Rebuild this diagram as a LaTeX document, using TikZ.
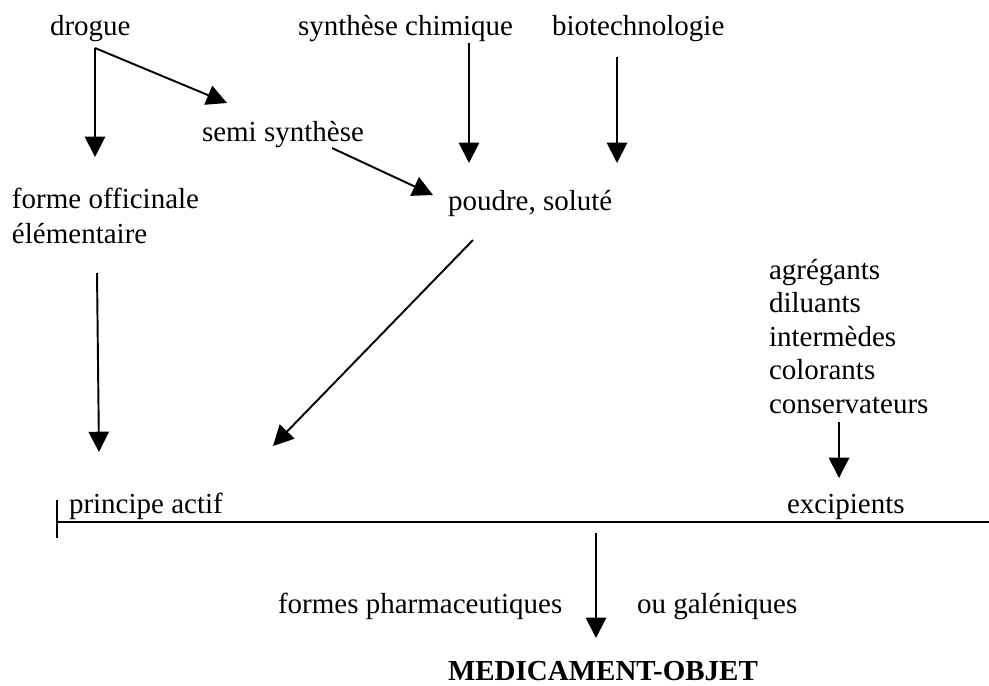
\documentclass[tikz,border=0pt]{standalone}
\usepackage{fontspec}
\setmainfont{Liberation Serif}
\usetikzlibrary{arrows.meta}
\begin{document}
\begin{tikzpicture}[x=0.4138pt,y=-0.4138pt,
  lbl/.style={anchor=base west,inner sep=0pt,outer sep=0pt,font=\fontsize{12pt}{14pt}\selectfont,align=left},
  arr/.style={line width=0.8pt,-{Triangle[length=8.4pt,width=8.4pt]}},
  rule/.style={line width=1.2pt}]
\useasboundingbox (0,0) rectangle (989,685);
% text nodes (multi-line nodes are placed at the baseline of their last line)
\node[lbl] (drogue) at (50,35) {drogue};
\node[lbl] (chim) at (298,35) {synthèse chimique};
\node[lbl] (bio) at (552,35) {biotechnologie};
\node[lbl] (semi) at (202,141) {semi synthèse};
\node[lbl,font=\fontsize{12pt}{14.4pt}\selectfont] (forme) at (12,243) {forme officinale\\élémentaire};
\node[lbl] (poudre) at (448,210) {poudre, soluté};
\node[lbl,font=\fontsize{12pt}{13.8pt}\selectfont] (adj) at (769,413) {agrégants\\diluants\\intermèdes\\colorants\\conservateurs};
\node[lbl] (pa) at (69,513) {principe actif};
\node[lbl] (exc) at (787,513) {excipients};
\node[lbl] (fp) at (278,613) {formes pharmaceutiques};
\node[lbl] (gal) at (637,613) {ou galéniques};
\node[lbl,font=\fontsize{12pt}{14pt}\selectfont\bfseries] (med) at (448,680) {MEDICAMENT-OBJET};
% connector end points
\coordinate (d0) at (95,48);
\coordinate (d1) at (95,157);
\coordinate (d2) at (227,103);
\coordinate (c0) at (469,43);
\coordinate (c1) at (469,163);
\coordinate (b0) at (617,57);
\coordinate (b1) at (617,163);
\coordinate (s0) at (332,148);
\coordinate (s1) at (433,195);
\coordinate (f0) at (97,273);
\coordinate (f1) at (99,452);
\coordinate (p0) at (473,240);
\coordinate (p1) at (273,446);
\coordinate (e0) at (839,422);
\coordinate (e1) at (839,478);
\coordinate (l0) at (57,522);
\coordinate (l1) at (989,522);
\coordinate (t0) at (57,500);
\coordinate (t1) at (57,538);
\coordinate (m0) at (596,533);
\coordinate (m1) at (596,638);
% connectors
\draw[arr] (d0) -- (d1);
\draw[arr] (d0) -- (d2);
\draw[arr] (c0) -- (c1);
\draw[arr] (b0) -- (b1);
\draw[arr] (s0) -- (s1);
\draw[arr] (f0) -- (f1);
\draw[arr] (p0) -- (p1);
\draw[arr] (e0) -- (e1);
\draw[rule] (l0) -- (l1);
\draw[line width=0.8pt] (t0) -- (t1);
\draw[arr] (m0) -- (m1);
\end{tikzpicture}
\end{document}
